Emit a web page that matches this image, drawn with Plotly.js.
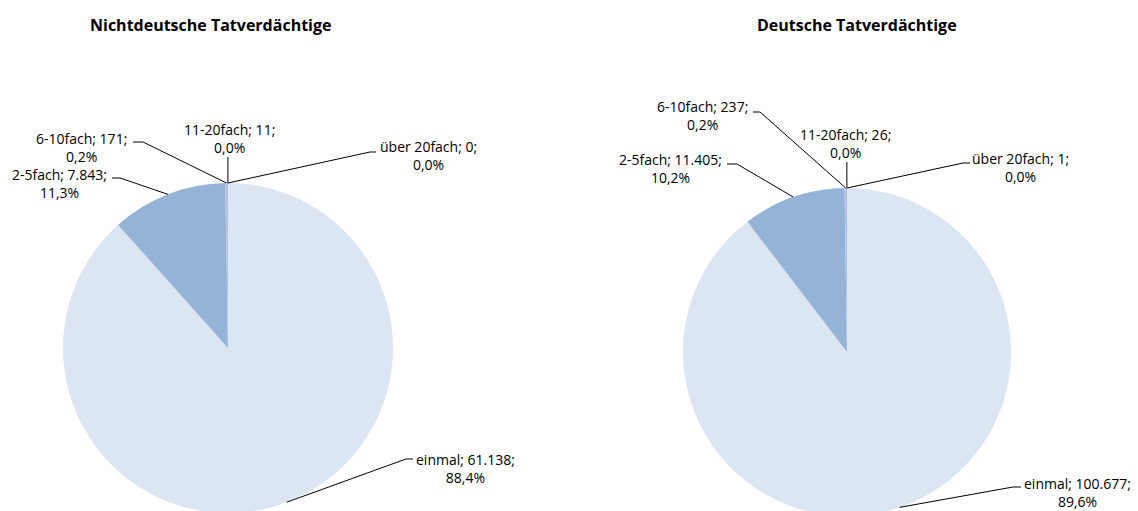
<!DOCTYPE html>
<html><head><meta charset="utf-8">
<script src="https://cdn.plot.ly/plotly-3.0.1.min.js"></script>
<style>html,body{margin:0;padding:0;overflow:hidden;background:#fff}#chart{width:1138px;height:520px}</style>
</head><body><div id="chart"></div>
<script>
// ---- data ----
const categories = ['einmal', '2-5fach', '6-10fach', '11-20fach', 'über 20fach'];
const nichtdeutscheValues = [61138, 7843, 171, 11, 0];
const deutscheValues = [100677, 11405, 237, 26, 1];
const chartTitles = ['Nichtdeutsche Tatverdächtige', 'Deutsche Tatverdächtige'];

// ---- styles / layout ----
const sliceColors = ['#DCE6F2', '#95B3D7', '#B4C3E6', '#4F81BD', '#1F497D'];
const W = 1138, H = 520;
const FONT = 'Open Sans, Noto Sans, sans-serif';

const pieDefs = [
  { values: nichtdeutscheValues, title: chartTitles[0], box: [63, 183, 393, 513], titleX: 210, titleY: 25,
    labels: [
      { tx: 465, ty: 468, ex: 406, ey: 459, sx: 413 },
      { tx: 59,  ty: 183, ex: 120, ey: 178, sx: 112 },
      { tx: 82,  ty: 147, ex: 143, ey: 142, sx: 133 },
      { tx: 229, ty: 139, ex: null, ey: 157, sx: null },
      { tx: 428, ty: 155, ex: 370, ey: 152, sx: 376 }
    ] },
  { values: deutscheValues, title: chartTitles[1], box: [683, 188, 1011, 516], titleX: 857, titleY: 25,
    labels: [
      { tx: 1077, ty: 492, ex: 1013, ey: 487, sx: 1021 },
      { tx: 670,  ty: 169, ex: 737,  ey: 164, sx: 727 },
      { tx: 702,  ty: 115, ex: 760,  ey: 112, sx: 753 },
      { tx: 845,  ty: 143, ex: null, ey: 162, sx: null },
      { tx: 1020, ty: 168, ex: 963,  ey: 163, sx: 970 }
    ] }
];

function fmtInt(v) { return String(v).replace(/\B(?=(\d{3})+(?!\d))/g, '.'); }
function fmtPct(v, s) { return (v / s * 100).toFixed(1).replace('.', ',') + '%'; }
const px = x => x / W;
const py = y => 1 - y / H;

const traces = [], annotations = [], shapes = [];
pieDefs.forEach(def => {
  const [x0, y0, x1, y1] = def.box;
  traces.push({
    type: 'pie', labels: categories, values: def.values, sort: false,
    direction: 'clockwise', rotation: 0, textinfo: 'none', hoverinfo: 'none',
    marker: { colors: sliceColors, line: { width: 0 } },
    domain: { x: [px(x0), px(x1)], y: [py(y1), py(y0)] },
    showlegend: false
  });
  annotations.push({
    xref: 'paper', yref: 'paper', x: px(def.titleX), y: py(def.titleY),
    xanchor: 'center', yanchor: 'middle', showarrow: false,
    text: '<b>' + def.title + '</b>', font: { family: FONT, size: 16, color: '#000' }
  });
  const sum = def.values.reduce((a, b) => a + b, 0);
  const cx = (x0 + x1) / 2, cy = (y0 + y1) / 2, r = Math.min(x1 - x0, y1 - y0) / 2;
  let cum = 0;
  def.values.forEach((v, i) => {
    const mid = (cum + v / 2) / sum * 2 * Math.PI;
    cum += v;
    const ax = cx + r * Math.sin(mid), ay = cy - r * Math.cos(mid);
    const L = def.labels[i];
    annotations.push({
      xref: 'paper', yref: 'paper', x: px(L.tx), y: py(L.ty),
      xanchor: 'center', yanchor: 'middle', align: 'center', showarrow: false,
      text: categories[i] + '; ' + fmtInt(v) + ';<br>' + fmtPct(v, sum),
      font: { family: FONT, size: 14, color: '#000' }
    });
    const lineStyle = { color: '#000', width: 1 };
    if (L.ex === null) {
      shapes.push({ type: 'line', xref: 'paper', yref: 'paper', x0: px(ax), y0: py(ay), x1: px(ax), y1: py(L.ey), line: lineStyle });
    } else {
      shapes.push({ type: 'line', xref: 'paper', yref: 'paper', x0: px(ax), y0: py(ay), x1: px(L.ex), y1: py(L.ey), line: lineStyle });
      shapes.push({ type: 'line', xref: 'paper', yref: 'paper', x0: px(L.ex), y0: py(L.ey), x1: px(L.sx), y1: py(L.ey), line: lineStyle });
    }
  });
});

Plotly.newPlot('chart', traces, {
  width: W, height: H, margin: { l: 0, r: 0, t: 0, b: 0 },
  paper_bgcolor: '#fff', plot_bgcolor: '#fff',
  annotations: annotations, shapes: shapes, showlegend: false
}, { staticPlot: true, displayModeBar: false });
</script>
</body></html>
